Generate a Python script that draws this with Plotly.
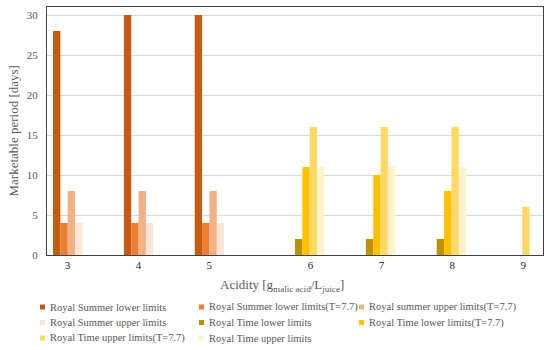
import plotly.graph_objects as go

# ---- data ----
acidity = ["3", "4", "5", "6", "7", "8", "9"]
series_names = [
    "Royal Summer lower limits",
    "Royal Summer lower limits(T=7.7)",
    "Royal summer upper limits(T=7.7)",
    "Royal Summer upper limits",
    "Royal Time lower limits",
    "Royal Time lower limits(T=7.7)",
    "Royal Time upper limits(T=7.7)",
    "Royal Time upper limits",
]
rs_lower = [28, 30, 30, 0, 0, 0, 0]
rs_lower_t = [4, 4, 4, 0, 0, 0, 0]
rs_upper_t = [8, 8, 8, 0, 0, 0, 0]
rs_upper = [4, 4, 4, 0, 0, 0, 0]
rt_lower = [0, 0, 0, 2, 2, 2, 0]
rt_lower_t = [0, 0, 0, 11, 10, 8, 0]
rt_upper_t = [0, 0, 0, 16, 16, 16, 6]
rt_upper = [0, 0, 0, 11, 11, 11, 0]
series_values = [rs_lower, rs_lower_t, rs_upper_t, rs_upper,
                 rt_lower, rt_lower_t, rt_upper_t, rt_upper]

# ---- style / layout ----
W, H = 550, 350
ML, MR, MT, MB = 47, 7, 7, 95
PW, PH = W - ML - MR, H - MT - MB
colors = ["#C55A11", "#ED7D31", "#F4B183", "#FBE5D6",
          "#BF9000", "#FFC000", "#FFD966", "#FFF2CC"]
FONT = "Liberation Serif, Times New Roman, serif"
GREY = "#595959"
# tick labels in the original are shifted off the category centres
label_shift = [-0.21, -0.21, -0.21, 0.22, 0.22, 0.22, 0.22]
# legend grid (pixel positions of text start / row centres)
leg_cols_px = [47.5, 206.5, 366.5]
leg_rows_px = [307, 322.5, 338]


def px_x(px):
    return (px - ML) / PW


def px_y(py):
    return (H - MB - py) / PH


xpos = list(range(len(acidity)))

fig = go.Figure()
for name, vals, col in zip(series_names, series_values, colors):
    fig.add_trace(go.Bar(x=xpos, y=vals, name=name, marker_color=col,
                         marker_line_width=0, showlegend=False))

fig.update_layout(
    width=W, height=H,
    margin=dict(l=ML, r=MR, t=MT, b=MB, autoexpand=False),
    paper_bgcolor="white", plot_bgcolor="white",
    barmode="group", bargap=0.17, bargroupgap=0,
    font=dict(family=FONT, size=11, color=GREY),
    showlegend=False,
)
fig.update_xaxes(
    range=[-0.5, len(acidity) - 0.5],
    tickmode="array",
    tickvals=[p + s for p, s in zip(xpos, label_shift)],
    ticktext=acidity,
    showgrid=False, zeroline=False, automargin=False,
    showline=True, linecolor="#404040", linewidth=1, mirror=True,
    ticks="", tickfont=dict(family=FONT, size=11, color="#262626"),
)
fig.update_yaxes(
    range=[0, 31], dtick=5,
    showgrid=True, gridcolor="#D9D9D9", gridwidth=1,
    zeroline=False, automargin=False,
    showline=True, linecolor="#404040", linewidth=1, mirror=True,
    ticks="", ticklabelstandoff=6,
    tickfont=dict(family=FONT, size=11, color=GREY),
)

# axis titles
fig.add_annotation(
    text="Marketable period [days]", textangle=-90,
    xref="paper", yref="paper", x=px_x(13), y=px_y(131.5),
    xanchor="center", yanchor="middle", showarrow=False,
    font=dict(family=FONT, size=13, color=GREY),
)
fig.add_annotation(
    text="Acidity [g<sub>malic acid</sub>/L<sub>juice</sub>]",
    xref="paper", yref="paper", x=px_x(282), y=px_y(285.5),
    xanchor="center", yanchor="middle", showarrow=False,
    font=dict(family=FONT, size=13, color=GREY),
)

# legend (3 columns, Excel-like small square keys)
for i, (name, col) in enumerate(zip(series_names, colors)):
    r, c = divmod(i, 3)
    tx, ty = leg_cols_px[c], leg_rows_px[r]
    fig.add_shape(type="rect", xref="paper", yref="paper",
                  x0=px_x(tx - 7.5), x1=px_x(tx - 2.5),
                  y0=px_y(ty + 2.5), y1=px_y(ty - 2.5),
                  fillcolor=col, line_width=0, layer="above")
    fig.add_annotation(text=name, xref="paper", yref="paper",
                       x=px_x(tx), y=px_y(ty), xanchor="left",
                       yanchor="middle", showarrow=False,
                       font=dict(family=FONT, size=10.5, color=GREY))

fig.write_html(
    "out.html",
    config={"displayModeBar": False},
    post_script="document.body.style.margin='0';"
                "document.body.style.padding='0';",
)
